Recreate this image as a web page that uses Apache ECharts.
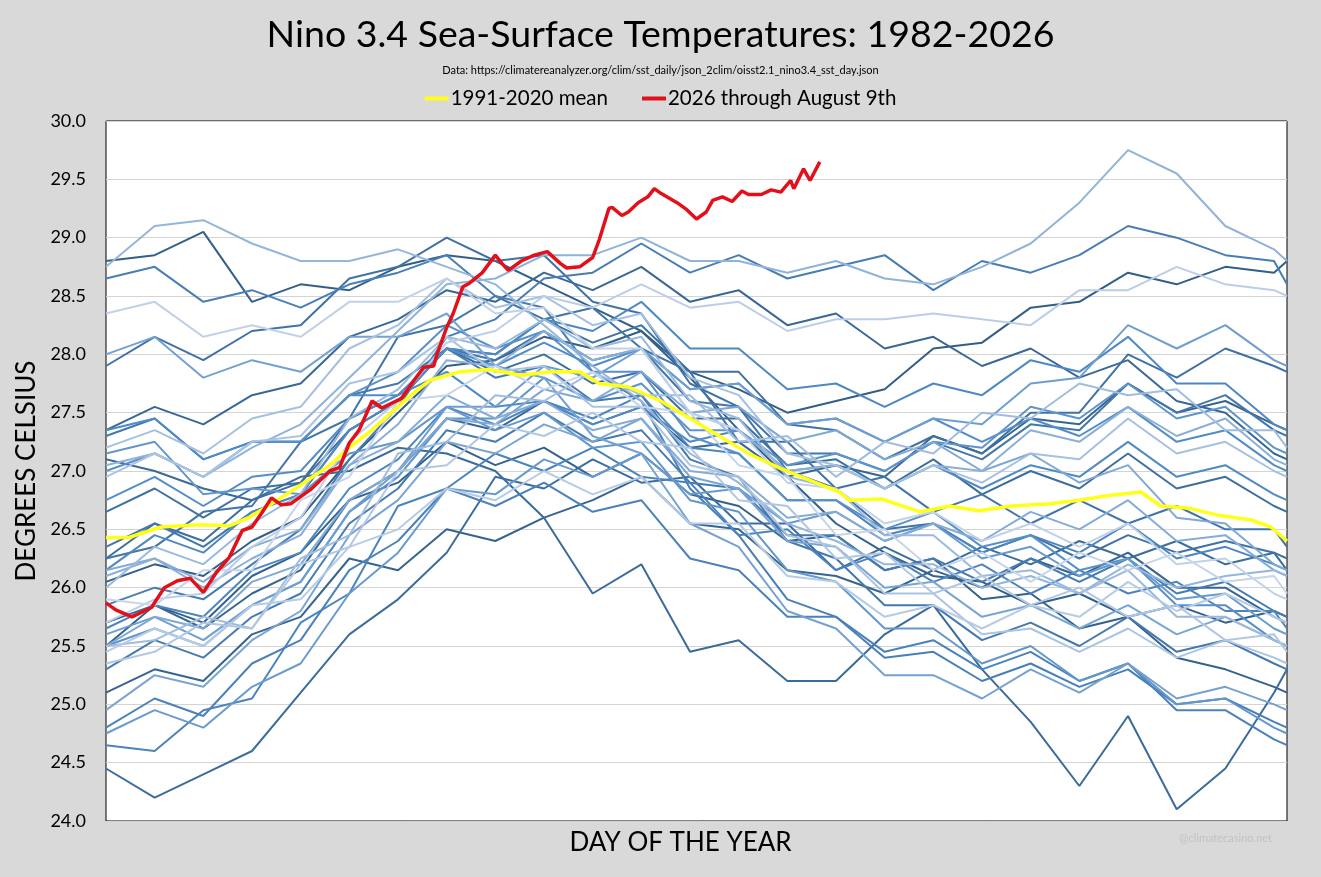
<!DOCTYPE html>
<html><head><meta charset="utf-8">
<script src="https://cdn.jsdelivr.net/npm/echarts/dist/echarts.min.js"></script>
<style>html,body{margin:0;padding:0;background:#d9d9d9;}#c{width:1321px;height:877px;}</style>
</head><body><div id="c"></div>
<script>
// Day-of-year sample points shared by the historical years
const DAYS = [1,16,31,46,61,76,91,106,121,136,151,166,181,196,211,226,241,256,271,286,301,316,331,346,361,365];

const y1982 = [26.05,26.2,26.1,26.4,26.6,27.1,27.5,27.9,27.95,28.15,28.05,28.2,27.85,27.7,27.5,27.6,27.7,28.05,28.1,28.4,28.45,28.7,28.6,28.75,28.7,28.8];
const y1983 = [28.8,28.85,29.05,28.45,28.6,28.55,28.75,28.85,28.8,28.6,28.4,28.2,27.8,27.35,26.95,26.55,26.3,26.1,26.05,25.85,25.95,25.75,25.85,25.7,25.8,25.75];
const y1984 = [25.5,25.85,25.7,26.1,26.3,26.75,26.9,27.25,27.05,27.2,26.95,27.15,26.8,26.7,26.4,26.45,26.15,26.25,25.9,25.95,25.65,25.75,25.4,25.3,25.15,25.1];
const y1985 = [25.1,25.3,25.2,25.6,25.75,26.25,26.15,26.5,26.4,26.6,26.75,26.95,26.55,26.5,26.15,26.1,25.95,26.15,26.0,26.25,26.1,26.3,26.0,26.0,25.75,25.7];
const y1986 = [25.7,25.85,25.65,25.95,26.15,26.75,27.0,27.45,27.35,27.6,27.4,27.55,27.2,27.25,26.95,27.05,26.95,27.3,27.15,27.45,27.4,27.75,27.5,27.6,27.4,27.35];
const y1987 = [27.35,27.55,27.4,27.65,27.75,28.15,28.3,28.55,28.45,28.7,28.55,28.75,28.45,28.55,28.25,28.35,28.05,28.15,27.9,28.05,27.8,27.95,27.6,27.5,27.15,27.1];
const y1988 = [27.1,27.0,26.85,26.75,26.95,27.0,27.2,27.15,27.0,26.6,25.95,26.2,25.45,25.55,25.2,25.2,25.6,25.85,25.3,24.85,24.3,24.9,24.1,24.45,25.1,25.3];
const y1989 = [24.45,24.2,24.4,24.6,25.1,25.6,25.9,26.3,26.95,26.85,27.1,26.9,26.95,26.55,26.55,26.15,26.35,26.15,26.35,26.2,26.4,26.25,26.4,26.2,26.3,26.15];
const y1990 = [26.25,26.55,26.4,26.75,26.9,27.45,27.65,28.05,27.85,28.0,27.75,27.85,27.45,27.45,27.05,27.1,26.85,27.1,26.8,27.0,26.85,27.15,26.85,26.95,26.7,26.65];
const y1991 = [26.65,26.85,26.6,26.85,26.9,27.35,27.6,28.05,28.0,28.3,28.1,28.25,27.85,27.85,27.4,27.35,27.1,27.3,27.15,27.5,27.5,28.0,27.8,28.05,27.9,27.85];
const y1992 = [27.9,28.15,27.95,28.2,28.25,28.65,28.75,29.0,28.8,28.85,28.45,28.35,27.75,27.55,27.0,26.85,26.5,26.55,26.3,26.45,26.25,26.45,26.3,26.4,26.3,26.25];
const y1993 = [26.25,26.35,26.65,26.7,27.25,27.45,28.15,28.25,28.5,28.3,28.4,28.05,27.85,27.25,27.25,26.85,26.95,26.65,26.8,26.55,26.75,26.55,26.7,26.5,26.5,26.35];
const y1994 = [26.35,26.55,26.35,26.65,26.8,27.35,27.6,28.05,27.95,28.2,27.95,28.05,27.6,27.55,27.15,27.15,27.0,27.25,27.1,27.4,27.35,27.75,27.5,27.65,27.35,27.3];
const y1995 = [27.3,27.45,27.1,27.25,27.25,27.65,27.75,28.05,27.8,27.9,27.6,27.65,27.1,26.95,26.4,26.25,25.85,25.85,25.55,25.7,25.5,25.75,25.45,25.55,25.35,25.3];
const y1996 = [25.3,25.55,25.4,25.75,25.95,26.55,26.85,27.35,27.25,27.5,27.25,27.35,26.9,26.85,26.45,26.45,26.15,26.25,26.05,26.25,26.05,26.25,25.95,26.05,25.8,25.75];
const y1997 = [25.85,26.0,25.9,26.2,26.5,27.1,27.55,28.15,28.3,28.65,28.7,28.95,28.7,28.85,28.65,28.75,28.85,28.55,28.8,28.7,28.85,29.1,29.0,28.85,28.8,28.6];
const y1998 = [28.65,28.75,28.45,28.55,28.4,28.6,28.7,28.85,28.5,28.4,27.85,27.6,26.85,26.45,25.9,25.75,25.4,25.45,25.2,25.35,25.15,25.3,25.0,25.05,24.85,24.8];
const y1999 = [24.8,25.05,24.9,25.35,25.55,26.15,26.4,26.85,26.7,26.9,26.65,26.75,26.25,26.15,25.75,25.75,25.45,25.55,25.3,25.45,25.2,25.35,24.95,24.95,24.7,24.65];
const y2000 = [24.65,24.6,24.95,25.05,25.7,25.95,26.7,26.85,27.15,27.0,27.2,26.95,26.9,26.45,26.5,26.15,26.3,26.05,26.2,25.95,26.15,25.95,26.05,25.8,25.8,25.65];
const y2001 = [25.65,25.85,25.75,26.15,26.3,26.85,27.1,27.55,27.4,27.6,27.45,27.65,27.2,27.15,26.75,26.75,26.45,26.55,26.3,26.45,26.3,26.55,26.25,26.35,26.2,26.15];
const y2002 = [26.15,26.45,26.3,26.65,26.8,27.35,27.6,28.05,28.0,28.3,28.2,28.45,28.05,28.05,27.7,27.75,27.55,27.75,27.65,27.95,27.85,28.15,27.75,27.75,27.4,27.35];
const y2003 = [27.35,27.45,27.1,27.25,27.25,27.65,27.65,27.85,27.55,27.6,27.4,27.55,27.25,27.35,27.0,27.05,26.85,27.05,26.85,27.05,26.95,27.25,26.95,27.05,26.8,26.75];
const y2004 = [26.75,26.95,26.7,26.95,27.0,27.45,27.65,28.05,27.9,28.1,27.9,28.05,27.7,27.75,27.4,27.45,27.25,27.45,27.25,27.45,27.3,27.55,27.25,27.35,27.05,27.0];
const y2005 = [27.0,27.15,26.95,27.25,27.25,27.65,27.85,28.25,28.05,28.2,27.85,27.85,27.3,27.15,26.75,26.75,26.5,26.65,26.35,26.45,26.15,26.25,25.85,25.85,25.55,25.5];
const y2006 = [25.5,25.65,25.5,25.85,26.05,26.65,26.95,27.45,27.45,27.8,27.6,27.75,27.35,27.35,27.05,27.15,27.0,27.25,27.2,27.55,27.45,27.75,27.45,27.55,27.2,27.15];
const y2007 = [27.15,27.25,26.8,26.85,26.8,27.15,27.25,27.55,27.35,27.5,27.2,27.25,26.75,26.65,26.15,26.05,25.65,25.65,25.35,25.5,25.2,25.35,25.0,25.05,24.8,24.75];
const y2008 = [24.75,24.95,24.8,25.15,25.35,25.95,26.3,26.85,26.8,27.1,26.95,27.15,26.8,26.85,26.55,26.65,26.4,26.55,26.25,26.35,26.1,26.25,25.9,25.95,25.65,25.6];
const y2009 = [25.6,25.75,25.55,25.85,26.05,26.65,27.0,27.55,27.55,27.9,27.8,28.05,27.7,27.75,27.4,27.45,27.25,27.45,27.4,27.75,27.8,28.25,28.05,28.25,27.95,27.9];
const y2010 = [28.0,28.15,27.8,27.95,27.85,28.15,28.15,28.35,27.9,27.8,27.3,27.15,26.55,26.35,25.8,25.65,25.25,25.25,25.05,25.3,25.1,25.35,25.05,25.15,25.0,24.95];
const y2011 = [24.95,25.25,25.15,25.55,25.8,26.45,26.75,27.25,27.15,27.4,27.25,27.45,26.95,26.85,26.4,26.35,26.0,26.05,25.75,25.85,25.65,25.85,25.6,25.75,25.55,25.5];
const y2012 = [25.5,25.75,25.65,26.05,26.2,26.75,27.0,27.45,27.4,27.7,27.6,27.85,27.5,27.55,27.25,27.35,27.1,27.25,27.0,27.15,26.9,27.05,26.6,26.55,26.2,26.15];
const y2013 = [26.15,26.25,26.05,26.35,26.5,27.05,27.25,27.65,27.45,27.6,27.35,27.45,27.0,26.95,26.6,26.65,26.4,26.55,26.4,26.65,26.5,26.75,26.4,26.45,26.15,26.1];
const y2014 = [26.1,26.25,26.0,26.25,26.45,27.05,27.4,27.95,27.9,28.2,27.95,28.05,27.5,27.35,27.0,27.05,26.85,27.05,27.0,27.35,27.25,27.55,27.3,27.45,27.1,27.05];
const y2015 = [27.05,27.15,26.95,27.2,27.4,27.8,28.2,28.6,28.65,28.85,28.85,29.0,28.8,28.8,28.7,28.8,28.65,28.6,28.75,28.95,29.3,29.75,29.55,29.1,28.9,28.8];
const y2016 = [28.75,29.1,29.15,28.95,28.8,28.8,28.9,28.75,28.6,28.25,27.9,27.6,27.15,26.9,26.55,26.4,26.2,26.2,26.0,26.1,25.95,26.2,26.0,26.1,26.15,26.1];
const y2017 = [26.0,26.35,26.2,26.55,26.8,27.45,27.7,28.15,28.05,28.3,28.05,28.15,27.6,27.45,26.95,26.85,26.45,26.45,26.1,26.15,25.95,26.15,25.75,25.75,25.55,25.5];
const y2018 = [25.5,25.55,25.75,25.65,26.25,26.45,27.15,27.25,27.65,27.6,27.85,27.65,27.65,27.25,27.3,26.95,27.25,27.15,27.5,27.45,27.75,27.65,27.7,27.35,27.35,27.2];
const y2019 = [27.2,27.35,27.15,27.45,27.55,28.05,28.25,28.65,28.4,28.5,28.25,28.35,27.8,27.65,27.15,27.05,26.85,27.05,26.9,27.15,27.1,27.45,27.15,27.25,27.0,26.95];
const y2020 = [26.95,27.15,26.95,27.25,27.3,27.75,27.85,28.15,27.85,27.9,27.55,27.55,27.05,26.95,26.45,26.35,25.95,25.95,25.6,25.65,25.45,25.65,25.4,25.55,25.4,25.35];
const y2021 = [25.35,25.45,25.7,25.65,26.2,26.35,27.0,27.05,27.4,27.3,27.5,27.25,27.2,26.75,26.7,26.25,26.3,25.95,26.1,25.85,26.0,25.75,25.85,25.55,25.6,25.45];
const y2022 = [25.45,25.65,25.5,25.85,25.9,26.35,26.5,26.85,26.75,27.0,26.8,26.95,26.55,26.55,26.1,26.05,25.75,25.85,25.65,25.85,25.75,26.05,25.8,25.95,25.75,25.7];
const y2023 = [25.7,25.9,25.95,26.35,26.6,27.25,27.6,28.1,28.2,28.5,28.4,28.6,28.4,28.45,28.2,28.3,28.3,28.35,28.3,28.25,28.55,28.55,28.75,28.6,28.55,28.5];
const y2024 = [28.35,28.45,28.15,28.25,28.15,28.45,28.45,28.65,28.35,28.4,28.05,28.05,27.5,27.35,26.9,26.85,26.55,26.65,26.4,26.55,26.35,26.55,26.2,26.25,25.95,25.9];
const y2025 = [25.9,25.85,26.15,26.15,26.75,26.95,27.6,27.65,27.9,27.7,27.85,27.55,27.5,27.05,26.95,26.45,26.5,26.15,26.3,26.05,26.3,26.15,26.3,26.05,26.1,25.95];

const YEARS = [1982,1983,1984,1985,1986,1987,1988,1989,1990,1991,1992,1993,1994,1995,1996,1997,1998,1999,2000,2001,2002,2003,2004,2005,2006,2007,2008,2009,2010,2011,2012,2013,2014,2015,2016,2017,2018,2019,2020,2021,2022,2023,2024,2025];
const YEAR_VALUES = [y1982,y1983,y1984,y1985,y1986,y1987,y1988,y1989,y1990,y1991,y1992,y1993,y1994,y1995,y1996,y1997,y1998,y1999,y2000,y2001,y2002,y2003,y2004,y2005,y2006,y2007,y2008,y2009,y2010,y2011,y2012,y2013,y2014,y2015,y2016,y2017,y2018,y2019,y2020,y2021,y2022,y2023,y2024,y2025];

// 1991-2020 mean
const MEAN_DAYS   = [1,8,18,30,39,45,55,61,70,76,82,89,95,101,110,119,129,138,147,153,162,172,181,190,199,209,218,227,230,240,252,261,270,280,292,301,310,320,326,335,344,354,360,365];
const MEAN_VALUES = [26.43,26.43,26.52,26.54,26.53,26.6,26.77,26.88,27.05,27.2,27.33,27.5,27.65,27.78,27.85,27.87,27.82,27.85,27.85,27.75,27.72,27.6,27.45,27.3,27.15,27.02,26.92,26.82,26.75,26.76,26.65,26.7,26.66,26.7,26.72,26.75,26.79,26.82,26.7,26.68,26.62,26.58,26.52,26.4];

// 2026 through August 9th
const Y2026_DAYS   = [1,4,9,15,19,23,27,31,35,39,43,46,49,52,55,58,64,70,73,76,79,83,86,92,96,99,102,103,106,108,111,113,117,121,123,125,129,133,137,141,143,147,151,153,156,157,160,162,165,168,170,172,177,180,183,186,188,191,194,197,199,203,206,209,212,213,216,218,221];
const Y2026_VALUES = [25.87,25.81,25.75,25.83,26.0,26.06,26.08,25.96,26.13,26.26,26.49,26.52,26.64,26.77,26.71,26.72,26.84,27.0,27.03,27.24,27.35,27.6,27.54,27.62,27.78,27.89,27.9,28.0,28.23,28.35,28.58,28.61,28.7,28.85,28.78,28.72,28.8,28.85,28.88,28.78,28.74,28.75,28.83,28.98,29.25,29.26,29.19,29.22,29.3,29.35,29.42,29.38,29.3,29.24,29.16,29.22,29.32,29.35,29.31,29.4,29.37,29.37,29.41,29.39,29.49,29.42,29.59,29.49,29.65];

const FONT = 'Lato, "Open Sans", sans-serif';

function yearColor(i, n) {
  const stops = [[0, [0x32, 0x5E, 0x87]], [0.5, [0x50, 0x8B, 0xC6]], [1, [0xC7, 0xD5, 0xEA]]];
  const t = i / (n - 1);
  let a = stops[0], b = stops[1];
  if (t > 0.5) { a = stops[1]; b = stops[2]; }
  const u = (t - a[0]) / (b[0] - a[0]);
  const c = a[1].map((v, k) => Math.round(v + (b[1][k] - v) * u));
  return 'rgb(' + c.join(',') + ')';
}

const series = YEARS.map((yr, i) => ({
  name: String(yr),
  type: 'line',
  data: DAYS.map((d, k) => [d, YEAR_VALUES[i][k]]),
  showSymbol: false,
  symbol: 'none',
  lineStyle: { width: 2, color: yearColor(i, YEARS.length) },
  itemStyle: { color: yearColor(i, YEARS.length) },
  z: 2,
  silent: true
}));
series.push({
  name: '1991-2020 mean', type: 'line',
  data: MEAN_DAYS.map((d, k) => [d, MEAN_VALUES[k]]),
  showSymbol: false, symbol: 'none',
  lineStyle: { width: 3.5, color: '#FFFF1A' }, itemStyle: { color: '#FFFF1A' }, z: 5
});
series.push({
  name: '2026 through August 9th', type: 'line',
  data: Y2026_DAYS.map((d, k) => [d, Y2026_VALUES[k]]),
  showSymbol: false, symbol: 'none',
  lineStyle: { width: 3.5, color: '#E3101A' }, itemStyle: { color: '#E3101A' }, z: 6
});

const chart = echarts.init(document.getElementById('c'), null, { renderer: 'canvas' });
chart.setOption({
  animation: false,
  backgroundColor: '#d9d9d9',
  title: [
    { text: 'Nino 3.4 Sea-Surface Temperatures: 1982-2026', left: 'center', top: 11,
      textStyle: { fontFamily: FONT, fontSize: 37.5, fontWeight: 'normal', color: '#000' } },
    { text: 'Data: https://climatereanalyzer.org/clim/sst_daily/json_2clim/oisst2.1_nino3.4_sst_day.json', left: 'center', top: 60,
      textStyle: { fontFamily: FONT, fontSize: 11, fontWeight: 'normal', color: '#000' } },
    { text: '@climatecasino.net', right: 44, top: 828,
      textStyle: { fontFamily: FONT, fontSize: 11, fontWeight: 'normal', color: '#c2c2c2' } }
  ],
  legend: {
    data: ['1991-2020 mean', '2026 through August 9th'],
    left: 'center', top: 83, icon: 'rect', itemWidth: 24, itemHeight: 4, itemGap: 34,
    textStyle: { fontFamily: FONT, fontSize: 20.5, color: '#000', padding: [0, 0, 0, -3] },
    selectedMode: false
  },
  grid: { left: 106, right: 34, top: 121, bottom: 56, show: true, backgroundColor: '#fff', borderColor: '#000', borderWidth: 1 },
  xAxis: {
    type: 'value', min: 1, max: 365,
    name: 'DAY OF THE YEAR', nameLocation: 'middle', nameGap: 9,
    nameTextStyle: { fontFamily: FONT, fontSize: 26, color: '#000', padding: [0, 32, 0, 0] },
    axisLabel: { show: false }, axisTick: { show: false }, splitLine: { show: false }, axisLine: { show: false }
  },
  yAxis: {
    type: 'value', min: 24, max: 30, interval: 0.5,
    name: 'DEGREES CELSIUS', nameLocation: 'middle', nameGap: 66, nameRotate: 90,
    nameTextStyle: { fontFamily: FONT, fontSize: 26, color: '#000' },
    axisLabel: { formatter: v => v.toFixed(1), fontFamily: FONT, fontSize: 18, color: '#000', margin: 20 },
    axisTick: { show: false }, axisLine: { show: false },
    splitLine: { lineStyle: { color: '#d4d4d4', width: 1 } }
  },
  series: series
});
</script></body></html>
